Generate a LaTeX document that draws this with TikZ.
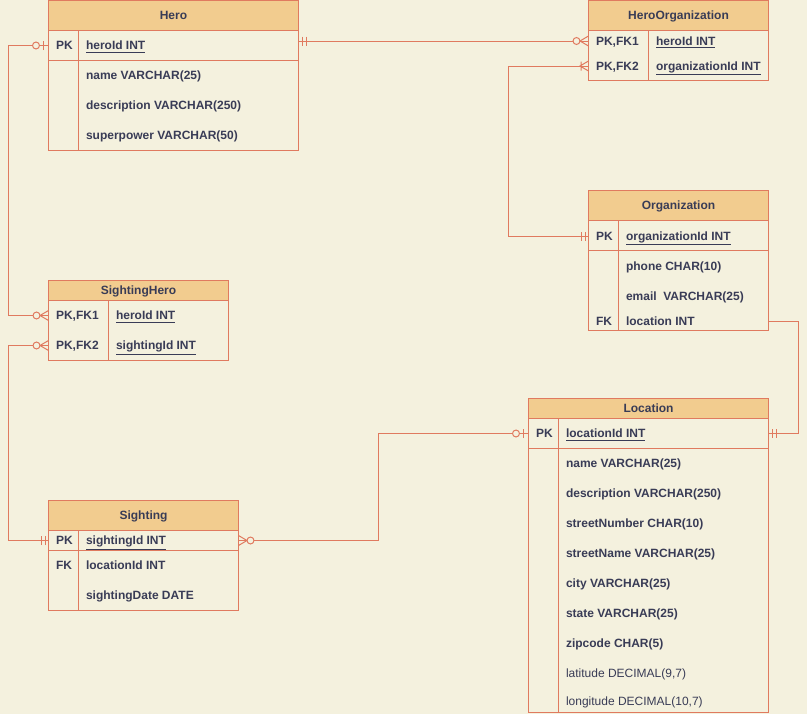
\documentclass[tikz,border=0pt]{standalone}
\usepackage{fontspec}
\setmainfont{Liberation Sans}
\usetikzlibrary{fit}
\definecolor{bgc}{HTML}{F4F1DE}
\definecolor{hdrc}{HTML}{F2CC8F}
\definecolor{strk}{HTML}{E07A5F}
\definecolor{txtc}{HTML}{393C56}
\tikzset{
  er/.style={draw=strk, line width=0.75pt},
  tbox/.style={draw=strk, line width=0.75pt, inner sep=0pt, outer sep=0pt},
  txt/.style={inner sep=0pt, outer sep=0pt, text=txtc, text height=6.5pt, text depth=0pt, font=\fontsize{9}{11}\selectfont},
  ttl/.style={txt, font=\fontsize{9}{11}\selectfont\bfseries},
  fld/.style={txt, anchor=west, font=\fontsize{9}{11}\selectfont\bfseries},
  rfld/.style={txt, anchor=west},
  mone/.pic={\draw[er] (3.5,-4.5) -- (3.5,4.5) (7.5,-4.5) -- (7.5,4.5);},
  zone/.pic={\draw[er] (5.5,-4.5) -- (5.5,4.5); \draw[er, fill=bgc] (12.5,0) circle[radius=2.6pt];},
  zmany/.pic={\draw[er] (0,-5) -- (8.5,0) -- (0,5); \draw[er, fill=bgc] (12,0) circle[radius=2.6pt];},
  omany/.pic={\draw[er] (0,-5) -- (8.5,0) -- (0,5) (7.5,-4.5) -- (7.5,4.5);},
}
\newcommand{\ertab}[7]{%
  \fill[hdrc] (#2,#3) rectangle (#4,#6);
  \draw[er] (#2,#6) -- (#4,#6);
  \node[tbox, fit={(#2,#3) (#4,#5)}] (#1) {};
  \node[ttl] (#1-title) at ({(#2+#4)/2},{(#3+#6)/2}) {#7};
}
\begin{document}
\begin{tikzpicture}[x=0.75pt, y=-0.75pt]
\useasboundingbox (0,0) rectangle (807,714);
\fill[bgc] (0,0) rectangle (807,714);

% Hero
\ertab{hero}{48.5}{0.5}{298.5}{150}{30.5}{Hero}
\draw[er] (78.5,30.5) -- (78.5,150);
\draw[er] (48.5,60.5) -- (298.5,60.5);
\node[fld] (heroPK) at (56,45.5) {PK};
\node[fld] (heroId) at (86,45.5) {\underline{heroId INT}};
\node[fld] (heroName) at (86,75.5) {name VARCHAR(25)};
\node[fld] (heroDesc) at (86,105.5) {description VARCHAR(250)};
\node[fld] (heroPow) at (86,135.5) {superpower VARCHAR(50)};

% HeroOrganization
\ertab{heroorg}{588.5}{0.5}{768.5}{80}{30.5}{HeroOrganization}
\draw[er] (648.5,30.5) -- (648.5,80);
\node[fld] (hoK1) at (596,41) {PK,FK1};
\node[fld] (hoHero) at (656,41) {\underline{heroId INT}};
\node[fld] (hoK2) at (596,66) {PK,FK2};
\node[fld] (hoOrg) at (656,66) {\underline{organizationId INT}};

% Organization
\ertab{org}{588.5}{190.5}{768.5}{330}{220.5}{Organization}
\draw[er] (618.5,220.5) -- (618.5,330);
\draw[er] (588.5,250.5) -- (768.5,250.5);
\node[fld] (orgPK) at (596,236) {PK};
\node[fld] (orgId) at (626,236) {\underline{organizationId INT}};
\node[fld] (orgPhone) at (626,266) {phone CHAR(10)};
\node[fld] (orgEmail) at (626,296) {email\ \ VARCHAR(25)};
\node[fld] (orgFK) at (596,321) {FK};
\node[fld] (orgLoc) at (626,321) {location INT};

% Location
\ertab{loc}{528.5}{398}{768.5}{712}{418}{Location}
\draw[er] (558.5,418) -- (558.5,712);
\draw[er] (528.5,448) -- (768.5,448);
\node[fld] (locPK) at (536,433.5) {PK};
\node[fld] (locId) at (566,433.5) {\underline{locationId INT}};
\node[fld] (locName) at (566,463.5) {name VARCHAR(25)};
\node[fld] (locDesc) at (566,493.5) {description VARCHAR(250)};
\node[fld] (locNum) at (566,523.5) {streetNumber CHAR(10)};
\node[fld] (locStreet) at (566,553.5) {streetName VARCHAR(25)};
\node[fld] (locCity) at (566,583.5) {city VARCHAR(25)};
\node[fld] (locState) at (566,613.5) {state VARCHAR(25)};
\node[fld] (locZip) at (566,643.5) {zipcode CHAR(5)};
\node[rfld] (locLat) at (566,673.5) {latitude DECIMAL(9,7)};
\node[rfld] (locLon) at (566,701) {longitude DECIMAL(10,7)};

% SightingHero
\ertab{sh}{48.5}{280.5}{228.5}{360}{300.5}{SightingHero}
\draw[er] (108.5,300.5) -- (108.5,360);
\node[fld] (shK1) at (56,315.5) {PK,FK1};
\node[fld] (shHero) at (116,315.5) {\underline{heroId INT}};
\node[fld] (shK2) at (56,345.5) {PK,FK2};
\node[fld] (shSig) at (116,345.5) {\underline{sightingId INT}};

% Sighting
\ertab{sig}{48.5}{500.5}{238.5}{610}{530.5}{Sighting}
\draw[er] (78.5,530.5) -- (78.5,610);
\draw[er] (48.5,550.5) -- (238.5,550.5);
\node[fld] (sigPK) at (56,540.5) {PK};
\node[fld] (sigId) at (86,540.5) {\underline{sightingId INT}};
\node[fld] (sigFK) at (56,565.5) {FK};
\node[fld] (sigLoc) at (86,565.5) {locationId INT};
\node[fld] (sigDate) at (86,595.5) {sightingDate DATE};

% routing columns
\coordinate (xL) at (8.5,0);
\coordinate (xM) at (378.5,0);
\coordinate (xO) at (508.5,0);
\coordinate (xR) at (798.5,0);

% connectors
\draw[er] (hero.east |- hoK1) -- (heroorg.west |- hoK1);
\draw[er] (hero.west |- heroPK) -- (xL |- heroPK) -- (xL |- shK1) -- (sh.west |- shK1);
\draw[er] (sh.west |- shK2) -- (xL |- shK2) -- (xL |- sigPK) -- (sig.west |- sigPK);
\draw[er] (sig.east |- sigPK) -- (xM |- sigPK) -- (xM |- locPK) -- (loc.west |- locPK);
\draw[er] (org.east |- orgFK) -- (xR |- orgFK) -- (xR |- locPK) -- (loc.east |- locPK);
\draw[er] (heroorg.west |- hoK2) -- (xO |- hoK2) -- (xO |- orgPK) -- (org.west |- orgPK);

% end marks
\path (hero.east |- hoK1) pic {mone};
\path (heroorg.west |- hoK1) pic[rotate=180] {zmany};
\path (hero.west |- heroPK) pic[rotate=180] {zone};
\path (sh.west |- shK1) pic[rotate=180] {zmany};
\path (sh.west |- shK2) pic[rotate=180] {zmany};
\path (sig.west |- sigPK) pic[rotate=180] {mone};
\path (sig.east |- sigPK) pic {zmany};
\path (loc.west |- locPK) pic[rotate=180] {zone};
\path (loc.east |- locPK) pic {mone};
\path (heroorg.west |- hoK2) pic[rotate=180] {omany};
\path (org.west |- orgPK) pic[rotate=180] {mone};
\end{tikzpicture}
\end{document}
